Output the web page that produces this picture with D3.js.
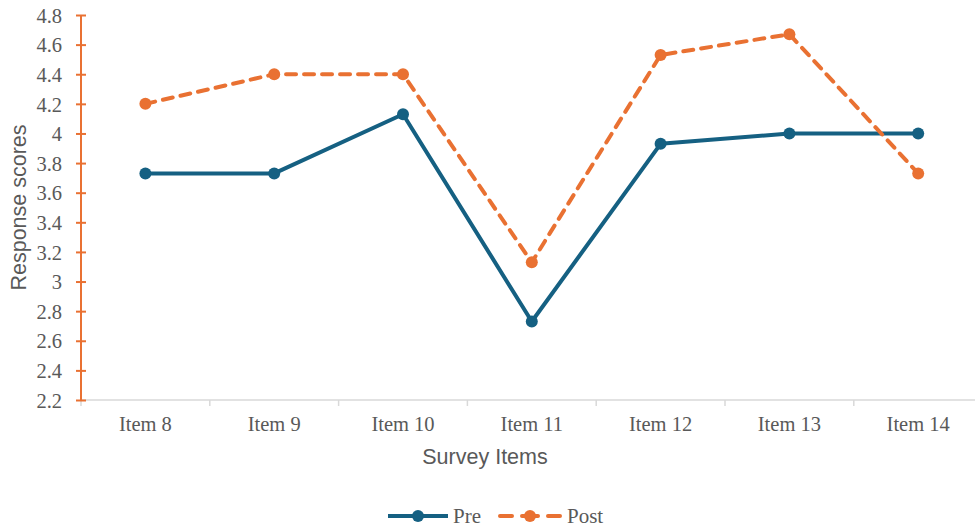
<!DOCTYPE html>
<html>
<head>
<meta charset="utf-8">
<script src="https://cdn.jsdelivr.net/npm/d3@7"></script>
<style>
	body { margin: 0; background: #fff; }
	.axistitle { font-family: "Liberation Sans", Arial, sans-serif; font-size: 21.5px; fill: #595959; }
</style>
</head>
<body>
<div id="chart"></div>
<script>

// data
var items = ["Item 8", "Item 9", "Item 10", "Item 11", "Item 12", "Item 13", "Item 14"];
var prescores = [3.73, 3.73, 4.13, 2.73, 3.93, 4.0, 4.0];
var postscores = [4.2, 4.4, 4.4, 3.13, 4.53, 4.67, 3.73];
var yticks = [2.2, 2.4, 2.6, 2.8, 3, 3.2, 3.4, 3.6, 3.8, 4, 4.2, 4.4, 4.6, 4.8];

var width = 975,
	height = 527,
	margin = {top: 15, bottom: 127, left: 81, right: 2};

var blue = "#156082",
	orange = "#e97132",
	serif = "'Liberation Serif', 'Times New Roman', serif";

var svg = d3.select("#chart")
	.append("svg")
	.attr("width", width)
	.attr("height", height);

// scales (the last band runs slightly past the right edge)
var x = d3.scaleBand()
	.domain(items)
	.range([margin.left, margin.left + 7 * 128.8]);

var y = d3.scaleLinear()
	.domain([2.2, 4.8])
	.range([height - margin.bottom, margin.top]);

// x axis, gray line with ticks between the categories
var xaxis = svg.append("g")
	.attr("transform", "translate(0," + y(2.2) + ")");

xaxis.append("line")
	.attr("x1", x.range()[0])
	.attr("x2", width)
	.attr("stroke", "#d9d9d9")
	.attr("stroke-width", 1.5);

xaxis.selectAll(".sep")
	.data(items)
	.enter()
	.append("line")
	.attr("x1", function(d){ return x(d); })
	.attr("x2", function(d){ return x(d); })
	.attr("y1", 0)
	.attr("y2", 6)
	.attr("stroke", "#d9d9d9")
	.attr("stroke-width", 1.5);

xaxis.selectAll(".label")
	.data(items)
	.enter()
	.append("text")
	.attr("x", function(d){ return x(d) + x.bandwidth() / 2; })
	.attr("y", 31)
	.attr("text-anchor", "middle")
	.style("font-family", serif)
	.style("font-size", "20.5px")
	.style("fill", "#595959")
	.text(function(d){ return d; });

// y axis, orange with crossing ticks
var yaxis = svg.append("g")
	.attr("transform", "translate(" + margin.left + ",0)")
	.call(d3.axisLeft(y).tickValues(yticks).tickSize(0).tickPadding(19)
		.tickFormat(function(d){ return String(+d.toFixed(1)); }));

yaxis.select(".domain").remove();

yaxis.selectAll(".tick text")
	.attr("dy", "0.35em")
	.style("font-family", serif)
	.style("font-size", "20.5px")
	.style("fill", "#595959");

yaxis.selectAll(".tick")
	.append("line")
	.attr("x1", -5)
	.attr("x2", 5)
	.attr("stroke", orange)
	.attr("stroke-width", 2);

yaxis.append("line")
	.attr("y1", y(2.2))
	.attr("y2", y(4.8))
	.attr("stroke", orange)
	.attr("stroke-width", 2);

// axis titles
svg.append("text")
	.attr("class", "axistitle")
	.attr("transform", "translate(26," + (y(3.5)) + ") rotate(-90)")
	.attr("text-anchor", "middle")
	.text("Response scores");

svg.append("text")
	.attr("class", "axistitle")
	.attr("x", 485)
	.attr("y", 464)
	.attr("text-anchor", "middle")
	.text("Survey Items");

// lines
var line = d3.line()
	.x(function(d, i){ return x(items[i]) + x.bandwidth() / 2; })
	.y(function(d){ return y(d); });

var series = [
	{name: "Pre", values: prescores, color: blue, dash: null},
	{name: "Post", values: postscores, color: orange, dash: "10,8"}
];

series.forEach(function(s){

	svg.append("path")
		.datum(s.values)
		.attr("d", line)
		.attr("fill", "none")
		.attr("stroke", s.color)
		.attr("stroke-width", 4)
		.attr("stroke-dasharray", s.dash)
		.attr("stroke-linecap", s.dash ? "round" : "butt")
		.attr("stroke-linejoin", "round");

	svg.append("g")
		.selectAll("circle")
		.data(s.values)
		.enter()
		.append("circle")
		.attr("cx", function(d, i){ return x(items[i]) + x.bandwidth() / 2; })
		.attr("cy", function(d){ return y(d); })
		.attr("r", 6)
		.attr("fill", s.color);
});

// legend
var legend = svg.append("g")
	.attr("transform", "translate(388,516)");

var legendx = [0, 112];

series.forEach(function(s, i){

	var g = legend.append("g")
		.attr("transform", "translate(" + legendx[i] + ",0)");

	g.append("line")
		.attr("x1", 0)
		.attr("x2", 60)
		.attr("stroke", s.color)
		.attr("stroke-width", 4)
		.attr("stroke-dasharray", s.dash ? "12,10,16,10,12" : null)
		.attr("stroke-linecap", s.dash ? "round" : "butt");

	g.append("circle")
		.attr("cx", 30)
		.attr("r", 6)
		.attr("fill", s.color);

	g.append("text")
		.attr("x", i ? 67 : 65)
		.attr("dy", "0.35em")
		.style("font-family", serif)
		.style("font-size", "21px")
		.style("fill", "#595959")
		.text(s.name);
});

</script>
</body>
</html>
